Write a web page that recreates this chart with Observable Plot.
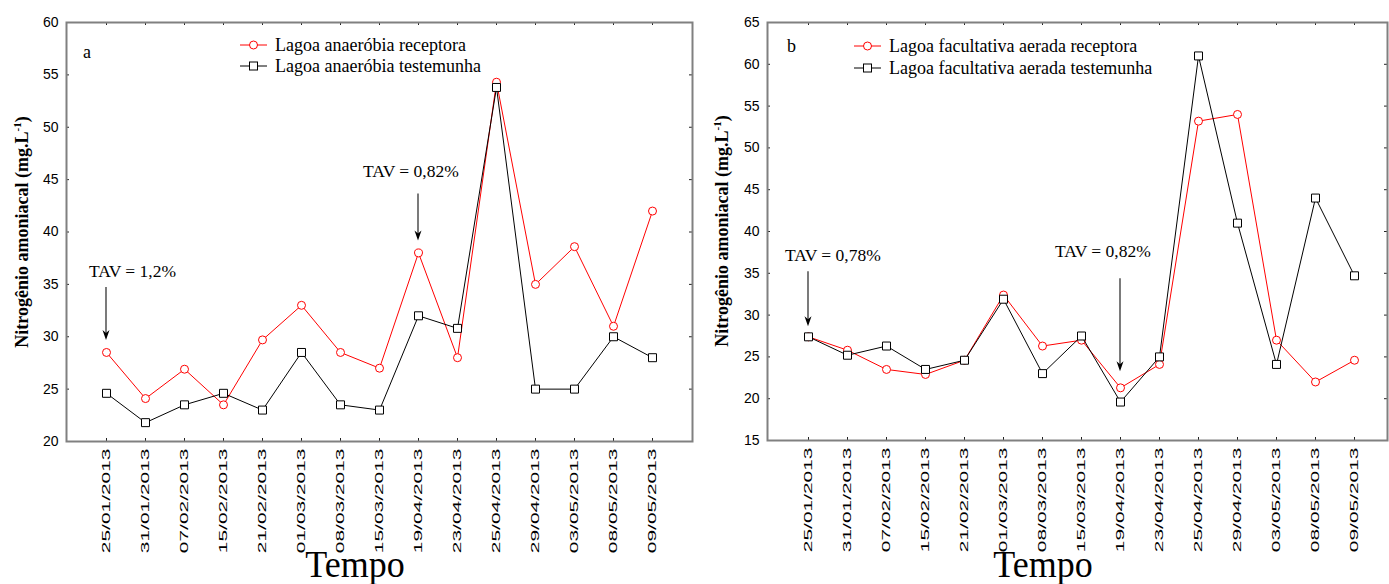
<!DOCTYPE html>
<html>
<head>
<meta charset="utf-8">
<script src="https://cdn.jsdelivr.net/npm/d3@7"></script>
<script src="https://cdn.jsdelivr.net/npm/@observablehq/plot@0.6"></script>
<style>
  html, body { margin: 0; background: #fff; }
  #wrap { position: relative; width: 1389px; height: 584px; overflow: hidden; }
  #wrap svg { position: absolute; top: 0; }
</style>
</head>
<body>
<div id="wrap"></div>
<script>
// Sampling dates
const dates = [
  "25/01/2013", "31/01/2013", "07/02/2013", "15/02/2013", "21/02/2013",
  "01/03/2013", "08/03/2013", "15/03/2013", "19/04/2013", "23/04/2013",
  "25/04/2013", "29/04/2013", "03/05/2013", "08/05/2013", "09/05/2013"
];

// Ammonia nitrogen (mg/L) — anaerobic ponds
const anaerobiaReceptora  = [28.5, 24.1, 26.9, 23.5, 29.7, 33.0, 28.5, 27.0, 38.0, 28.0, 54.3, 35.0, 38.6, 31.0, 42.0];
const anaerobiaTestemunha = [24.6, 21.8, 23.5, 24.6, 23.0, 28.5, 23.5, 23.0, 32.0, 30.8, 53.8, 25.0, 25.0, 30.0, 28.0];

// Ammonia nitrogen (mg/L) — aerated facultative ponds
const facultativaReceptora  = [27.4, 25.8, 23.5, 22.9, 24.6, 32.4, 26.3, 27.0, 21.3, 24.1, 53.2, 54.0, 27.0, 22.0, 24.6];
const facultativaTestemunha = [27.4, 25.2, 26.3, 23.5, 24.6, 31.9, 23.0, 27.5, 19.6, 25.0, 61.0, 41.0, 24.1, 44.0, 34.7];

// Axis ticks
const yTicksA = [20, 25, 30, 35, 40, 45, 50, 55, 60];
const yTicksB = [15, 20, 25, 30, 35, 40, 45, 50, 55, 60, 65];

// Legend entries (receptora first, testemunha second)
const legendA = ["Lagoa anaeróbia receptora", "Lagoa anaeróbia testemunha"];
const legendB = ["Lagoa facultativa aerada receptora", "Lagoa facultativa aerada testemunha"];

// Leachate ratio (TAV) changes, pointing at the receiving pond series
const tavA = [
  {date: "25/01/2013", label: "TAV = 1,2%"},
  {date: "19/04/2013", label: "TAV = 0,82%"}
];
const tavB = [
  {date: "25/01/2013", label: "TAV = 0,78%"},
  {date: "19/04/2013", label: "TAV = 0,82%"}
];

const SERIF = "'Liberation Serif', 'Times New Roman', serif";
const SANS = "'Liberation Sans', Arial, sans-serif";
const H = 584;

function panel(cfg) {
  const {receptora, testemunha, yDomain, yTicks, width, marginLeft, marginRight, marginBottom, xRange} = cfg;
  const toRows = (vals) => dates.map((d, i) => ({date: d, value: vals[i]}));
  const rec = toRows(receptora);
  const tes = toRows(testemunha);
  const marginTop = 22;
  const plotW = width - marginLeft - marginRight;
  const plotH = H - marginTop - marginBottom;
  const tk = 3;

  const plot = Plot.plot({
    width, height: H, marginTop, marginLeft, marginRight, marginBottom,
    style: {fontFamily: SANS, fontSize: "14px", color: "#000", background: "#fff", overflow: "visible"},
    x: {type: "point", domain: dates, range: xRange, padding: 0},
    y: {domain: yDomain},
    marks: [
      Plot.axisY({ticks: yTicks, tickSize: 0, tickPadding: 8, fontSize: 14, label: null}),
      Plot.axisX({tickSize: 0, tickRotate: -90, tickPadding: 7, fontSize: 11.5, label: null}),
      // small inward ticks on all four sides
      Plot.tickY(yTicks, {y: d => d, insetRight: plotW - tk, stroke: "#222"}),
      Plot.tickY(yTicks, {y: d => d, insetLeft: plotW - tk, stroke: "#222"}),
      Plot.tickX(dates, {x: d => d, insetTop: plotH - tk, stroke: "#222"}),
      Plot.tickX(dates, {x: d => d, insetBottom: plotH - tk, stroke: "#222"}),
      Plot.frame({stroke: "#808080", strokeWidth: 2}),
      Plot.line(rec, {x: "date", y: "value", stroke: "#ff0000", strokeWidth: 1}),
      Plot.dot(rec, {x: "date", y: "value", r: 4, stroke: "#ff0000", fill: "#fff", strokeWidth: 1}),
      Plot.line(tes, {x: "date", y: "value", stroke: "#000", strokeWidth: 1}),
      Plot.dot(tes, {x: "date", y: "value", symbol: "square", r: 4.5, stroke: "#000", fill: "#fff", strokeWidth: 1})
    ]
  });

  const svg = d3.select(plot);

  // stretch rotated date labels along their length
  svg.selectAll('g[aria-label="x-axis tick label"] text').each(function() {
    const t = d3.select(this);
    t.attr("transform", (t.attr("transform") || "") + " scale(1.82,1)");
  });

  const sx = plot.scale("x"), sy = plot.scale("y");
  const L = cfg.layout;

  // y-axis title with superscript
  const yl = svg.append("text")
    .attr("transform", `translate(${L.yLabelX},${L.yLabelY}) rotate(-90)`)
    .attr("text-anchor", "middle")
    .attr("font-family", SERIF).attr("font-weight", "bold").attr("font-size", 18).attr("fill", "#000");
  yl.append("tspan").text("Nitrogênio amoniacal (mg.L");
  yl.append("tspan").attr("font-size", 11).attr("dy", -7).text("-1");
  yl.append("tspan").attr("dy", 7).text(")");

  // x-axis title (slightly tall letterforms)
  svg.append("text")
    .attr("transform", `translate(${L.tempoX},577) scale(1,1.05)`)
    .attr("text-anchor", "middle")
    .attr("font-family", SERIF).attr("font-size", 36).attr("fill", "#000").text("Tempo");

  // panel letter
  svg.append("text").attr("x", L.letterX).attr("y", L.letterY).attr("text-anchor", "start")
    .attr("font-family", SERIF).attr("font-size", 18).attr("fill", "#000").text(cfg.letter);

  // legend
  const lg = svg.append("g").attr("font-family", SERIF).attr("font-size", 18).attr("text-anchor", "start");
  cfg.legend.forEach((name, i) => {
    const y = L.legendY + i * L.legendStep;
    const color = i === 0 ? "#ff0000" : "#000";
    lg.append("line").attr("x1", L.legendX).attr("x2", L.legendX + 27).attr("y1", y).attr("y2", y)
      .attr("stroke", color).attr("stroke-width", 1);
    if (i === 0) {
      lg.append("circle").attr("cx", L.legendX + 13.5).attr("cy", y).attr("r", 4)
        .attr("stroke", color).attr("fill", "#fff");
    } else {
      lg.append("rect").attr("x", L.legendX + 13.5 - 4).attr("y", y - 4).attr("width", 8).attr("height", 8)
        .attr("stroke", color).attr("fill", "#fff");
    }
    lg.append("text").attr("x", L.legendX + 35).attr("y", y).attr("dy", "0.33em").attr("fill", "#000").text(name);
  });

  // TAV annotations with arrows
  cfg.tav.forEach((a, i) => {
    const o = L.tav[i];
    const x = sx.apply(a.date);
    const idx = dates.indexOf(a.date);
    const tip = sy.apply(receptora[idx]) - o.gap;
    const tail = tip - o.len;
    svg.append("line").attr("x1", x).attr("x2", x).attr("y1", tail).attr("y2", tip - 6)
      .attr("stroke", "#222").attr("stroke-width", 1.2);
    svg.append("path")
      .attr("d", `M${x},${tip} L${x - 3.5},${tip - 10} L${x},${tip - 7} L${x + 3.5},${tip - 10} Z`)
      .attr("fill", "#000");
    svg.append("text").attr("x", x + o.dx).attr("y", tail - o.textGap)
      .attr("text-anchor", "start")
      .attr("font-family", SERIF).attr("font-size", 17.5).attr("fill", "#000").text(a.label);
  });

  return plot;
}

const wrap = document.getElementById("wrap");

const a = panel({
  letter: "a",
  receptora: anaerobiaReceptora, testemunha: anaerobiaTestemunha,
  yDomain: [20, 60], yTicks: yTicksA, legend: legendA, tav: tavA,
  width: 700, marginLeft: 66, marginRight: 8, marginBottom: 143,
  xRange: [105.1, 652.9],
  layout: {
    yLabelX: 28, yLabelY: 232, tempoX: 355, letterX: 83, letterY: 58,
    legendX: 240, legendY: 45, legendStep: 21,
    tav: [
      {gap: 12, len: 53, textGap: 10, dx: -17},
      {gap: 12, len: 47, textGap: 16, dx: -55}
    ]
  }
});
a.style.left = "0px";
wrap.appendChild(a);

const b = panel({
  letter: "b",
  receptora: facultativaReceptora, testemunha: facultativaTestemunha,
  yDomain: [15, 65], yTicks: yTicksB, legend: legendB, tav: tavB,
  width: 689, marginLeft: 67, marginRight: 2, marginBottom: 144,
  xRange: [106, 655.5],
  layout: {
    yLabelX: 28, yLabelY: 231, tempoX: 343, letterX: 87, letterY: 52,
    legendX: 154, legendY: 46, legendStep: 22,
    tav: [
      {gap: 10, len: 55, textGap: 10, dx: -23},
      {gap: 16, len: 93, textGap: 21, dx: -65}
    ]
  }
});
b.style.left = "700px";
wrap.appendChild(b);
</script>
</body>
</html>
